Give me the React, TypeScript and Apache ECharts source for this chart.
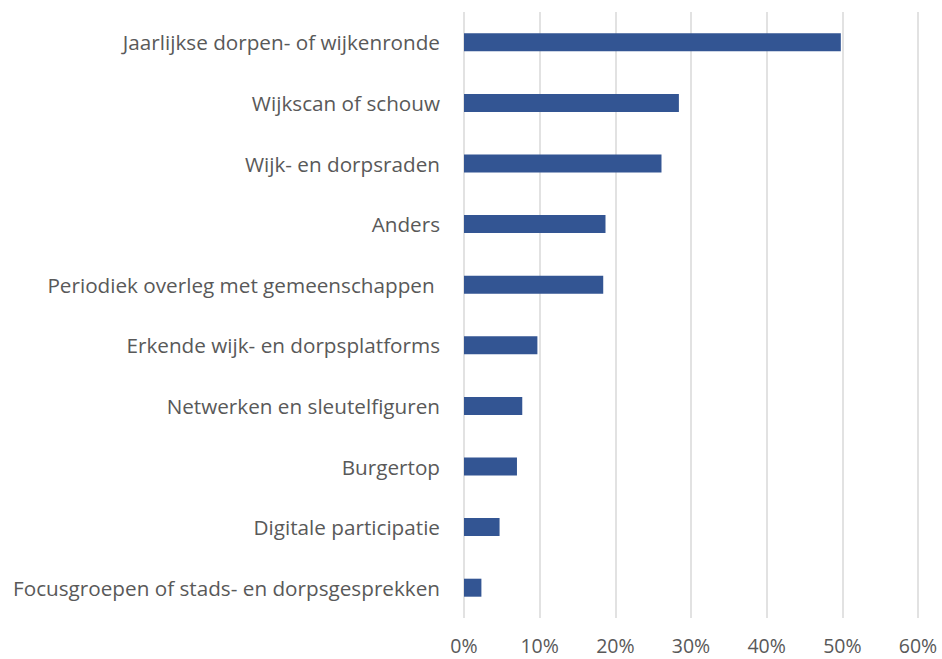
import React, { useEffect, useRef } from "react";
import * as echarts from "echarts";

const categories = [
  "Jaarlijkse dorpen- of wijkenronde",
  "Wijkscan of schouw",
  "Wijk- en dorpsraden",
  "Anders",
  "Periodiek overleg met gemeenschappen ",
  "Erkende wijk- en dorpsplatforms",
  "Netwerken en sleutelfiguren",
  "Burgertop",
  "Digitale participatie",
  "Focusgroepen of stads- en dorpsgesprekken",
];

const values = [49.8, 28.4, 26.1, 18.7, 18.4, 9.7, 7.7, 7.0, 4.7, 2.3];

const xTicks = [0, 10, 20, 30, 40, 50, 60];

export default function App() {
  const ref = useRef<HTMLDivElement>(null);
  useEffect(() => {
    if (!ref.current) return;
    const chart = echarts.init(ref.current, null, { renderer: "svg" });
    const font = "'Open Sans', 'Noto Sans', sans-serif";
    chart.setOption({
      animation: false,
      backgroundColor: "#ffffff",
      grid: { left: 464, right: 24, top: 12, bottom: 41, containLabel: false },
      xAxis: {
        type: "value",
        min: xTicks[0],
        max: xTicks[xTicks.length - 1],
        interval: 10,
        axisLine: { show: false },
        axisTick: { show: false },
        axisLabel: {
          formatter: (v: number) => `${v}%`,
          color: "#595959",
          fontSize: 19.5,
          lineHeight: 18,
          fontFamily: font,
          margin: 18,
        },
        splitLine: { show: true, lineStyle: { color: "#d9d9d9", width: 1.5 } },
      },
      yAxis: {
        type: "category",
        data: categories,
        inverse: true,
        axisLine: { show: false },
        axisTick: { show: false },
        axisLabel: {
          color: "#595959",
          fontSize: 20.7,
          fontFamily: font,
          margin: 24,
        },
      },
      series: [
        {
          type: "bar",
          data: values,
          barWidth: 18,
          itemStyle: { color: "#335593" },
        },
      ],
    });
    return () => chart.dispose();
  }, []);
  return <div ref={ref} style={{ width: 942, height: 659, position: "absolute", left: 0, top: 0 }} />;
}
